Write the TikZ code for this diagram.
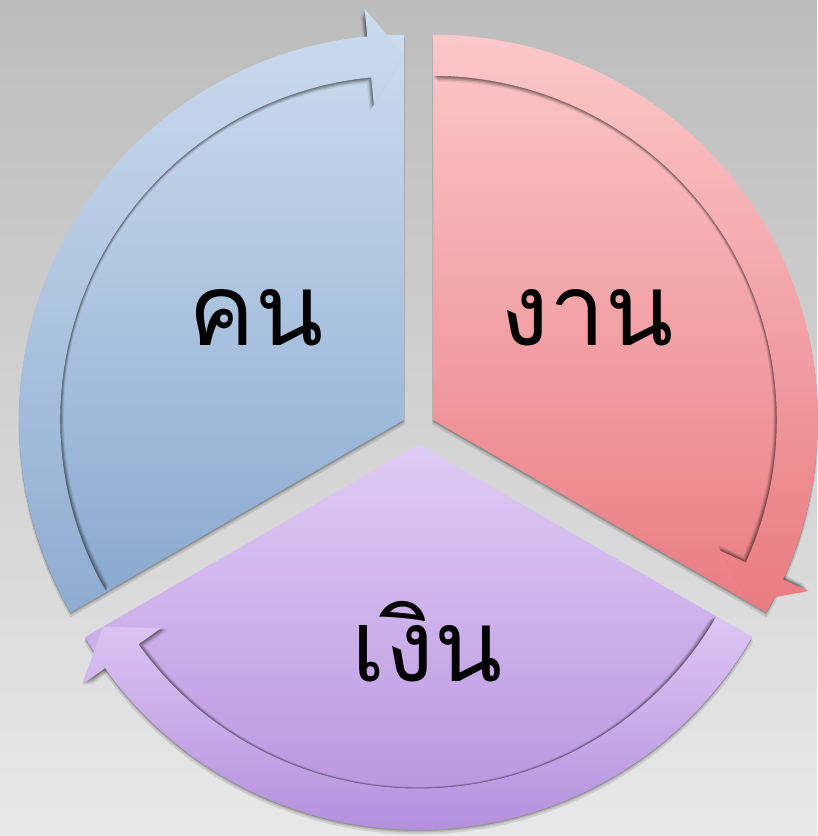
\documentclass[tikz,border=0pt]{standalone}
\usepackage{fontspec}
\newfontfamily\thaifont[Script=Thai]{Loma}
\usetikzlibrary{shadows}

\definecolor{bgtop}{HTML}{BCBCBC}
\definecolor{bgbot}{HTML}{E8E8E8}
\definecolor{bluetop}{HTML}{CCDBEE}
\definecolor{bluebot}{HTML}{88A8CE}
\definecolor{redtop}{HTML}{FBC8CA}
\definecolor{redbot}{HTML}{E97C82}
\definecolor{purtop}{HTML}{DFCBF5}
\definecolor{purbot}{HTML}{B189DB}
\definecolor{purband}{HTML}{DCC6F4}

% ring sizes (1 unit = 1px of the reference)
\newcommand{\ringout}{385}
\newcommand{\ringin}{344}
\newcommand{\ringmid}{364.5}
\newcommand{\tipout}{413}
\newcommand{\tipin}{316}
\newcommand{\tipang}{5.5}

% sector from #1 clockwise to #2
\newcommand{\sectorpath}[2]{(0,0) -- (#1:\ringout)
  arc[start angle=#1, end angle=#2, radius=\ringout] -- cycle}
% arrow band from #1 clockwise to the tip at #2
\newcommand{\bandpath}[2]{(#1:\ringout)
  arc[start angle=#1, end angle=#2+\tipang, radius=\ringout]
  -- (#2+\tipang:\tipout) -- (#2:\ringmid) -- (#2+\tipang:\tipin)
  -- (#2+\tipang:\ringin)
  arc[start angle=#2+\tipang, end angle=#1, radius=\ringin] -- cycle}

\begin{document}
\begin{tikzpicture}[
  x=0.025cm, y=0.025cm,
  font=\thaifont\fontsize{71}{80}\selectfont,
  sect/.style={
    general shadow={fill=black, opacity=.10, shadow yshift=-3pt, shadow scale=1.004},
    general shadow={fill=black, opacity=.12, shadow yshift=-2pt},
    general shadow={fill=black, opacity=.18, shadow yshift=-1pt}},
  band/.style={
    general shadow={fill=black, opacity=.08, shadow scale=.975},
    general shadow={fill=black, opacity=.12, shadow scale=.982},
    general shadow={fill=black, opacity=.16, shadow scale=.988},
    general shadow={fill=black, opacity=.20, shadow scale=.994}},
  lbl/.style={anchor=base, text=black}
]
\useasboundingbox (-418.5,-408) rectangle (398.5,428);
\shade[top color=bgtop, bottom color=bgbot] (-418.5,-408) rectangle (398.5,428);

% Sectors
\begin{scope}[shift={(-14.3,8.25)}]
  \shade[sect, top color=bluetop, bottom color=bluebot] \sectorpath{210}{90};
\end{scope}
\begin{scope}[shift={(14.3,8.25)}]
  \shade[sect, top color=redtop, bottom color=redbot] \sectorpath{90}{-30};
\end{scope}
\begin{scope}[shift={(0,-16.5)}]
  \shade[sect, top color=purtop, bottom color=purbot] \sectorpath{-30}{-150};
\end{scope}

% Arrow bands
\begin{scope}[shift={(-14.3,8.25)}]
  \shade[band, top color=bluetop, bottom color=bluebot!95!white] \bandpath{210}{90};
\end{scope}
\begin{scope}[shift={(14.3,8.25)}]
  \shade[band, top color=redtop, bottom color=redbot] \bandpath{90}{-30};
\end{scope}
\begin{scope}[shift={(0,-16.5)}]
  \shade[band, top color=purband, bottom color=purbot!95!white] \bandpath{-30}{-150};
\end{scope}

% Labels
\node[lbl] (kon) at (-162.5,83) {คน};
\node[lbl] (ngan) at (168.5,83) {งาน};
\node[lbl] (ngoen) at (8.5,-253) {เงิน};
\end{tikzpicture}
\end{document}
